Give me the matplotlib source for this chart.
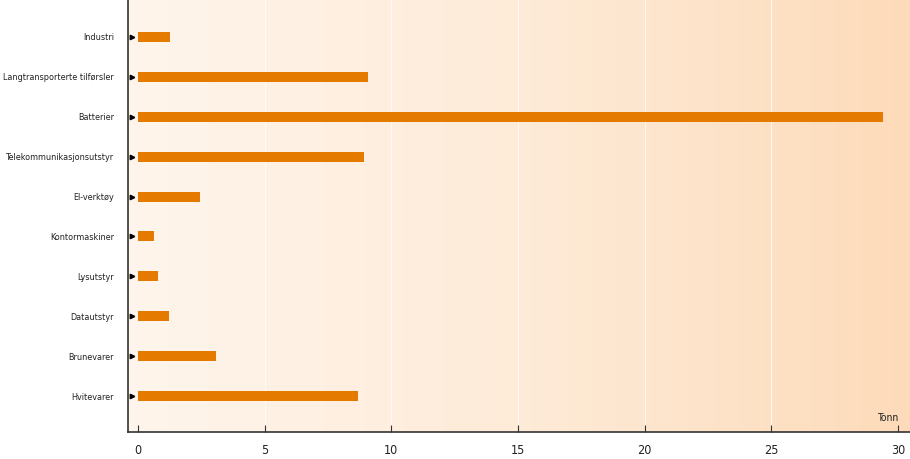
import numpy as np
import matplotlib.pyplot as plt
from matplotlib.colors import LinearSegmentedColormap

# --- Data (tonn) ---
categories = ["Industri", "Langtransporterte tilførsler", "Batterier",
              "Telekommunikasjonsutstyr", "El-verktøy", "Kontormaskiner",
              "Lysutstyr", "Datautstyr", "Brunevarer", "Hvitevarer"]
values = [1.26, 9.08, 29.41, 8.92, 2.45, 0.63, 0.79, 1.22, 3.08, 8.69]
xticks = [0, 5, 10, 15, 20, 25, 30]

bar_color = "#E57A00"
spine_color = "#333333"

plt.rcParams['font.family'] = ['DejaVu Sans']
plt.rcParams['font.stretch'] = 'condensed'

fig = plt.figure(figsize=(9.1, 4.59), dpi=100)
ax = fig.add_axes([128/910, 1 - 432/459, 782/910, 432/459])

y = np.arange(len(categories))
xmin, xmax = -0.39, 30.47
ymin, ymax = len(categories) - 1 + 0.9, -0.925

# background gradient
cmap = LinearSegmentedColormap.from_list("bg", ["#FEF5EC", "#FEEBD8", "#FDDBBA"])
grad = np.linspace(0, 1, 256).reshape(1, -1)
ax.imshow(grad, extent=[xmin, xmax, ymin, ymax], aspect='auto', cmap=cmap,
          zorder=0, interpolation='bilinear')

# white gridlines
for t in xticks[1:-1]:
    ax.axvline(t, color="white", lw=0.8, alpha=0.7, zorder=1)

ax.barh(y, values, height=0.25, color=bar_color, zorder=3)

# triangle markers at each category
ax.plot(np.full(len(y), -0.25), y, linestyle='none', marker='>', color='black',
        markersize=3.2, zorder=4, clip_on=False)

ax.set_xlim(xmin, xmax)
ax.set_ylim(ymin, ymax)
ax.set_yticks(y)
ax.set_yticklabels(categories, fontsize=6.5, color="#222222")
ax.tick_params(axis='y', length=0, pad=10)
ax.set_xticks(xticks)
ax.set_xticklabels([str(t) for t in xticks], fontsize=9, color="#222222")
ax.tick_params(axis='x', direction='in', length=5, color=spine_color, pad=9)

for s in ['top', 'right']:
    ax.spines[s].set_visible(False)
for s in ['left', 'bottom']:
    ax.spines[s].set_color(spine_color)
    ax.spines[s].set_linewidth(1.2)

ax.text(30, len(categories) - 1 + 0.68, "Tonn", ha='right', va='bottom',
        fontsize=7.5, color="#222222")

fig.savefig("out.png", dpi=100)
